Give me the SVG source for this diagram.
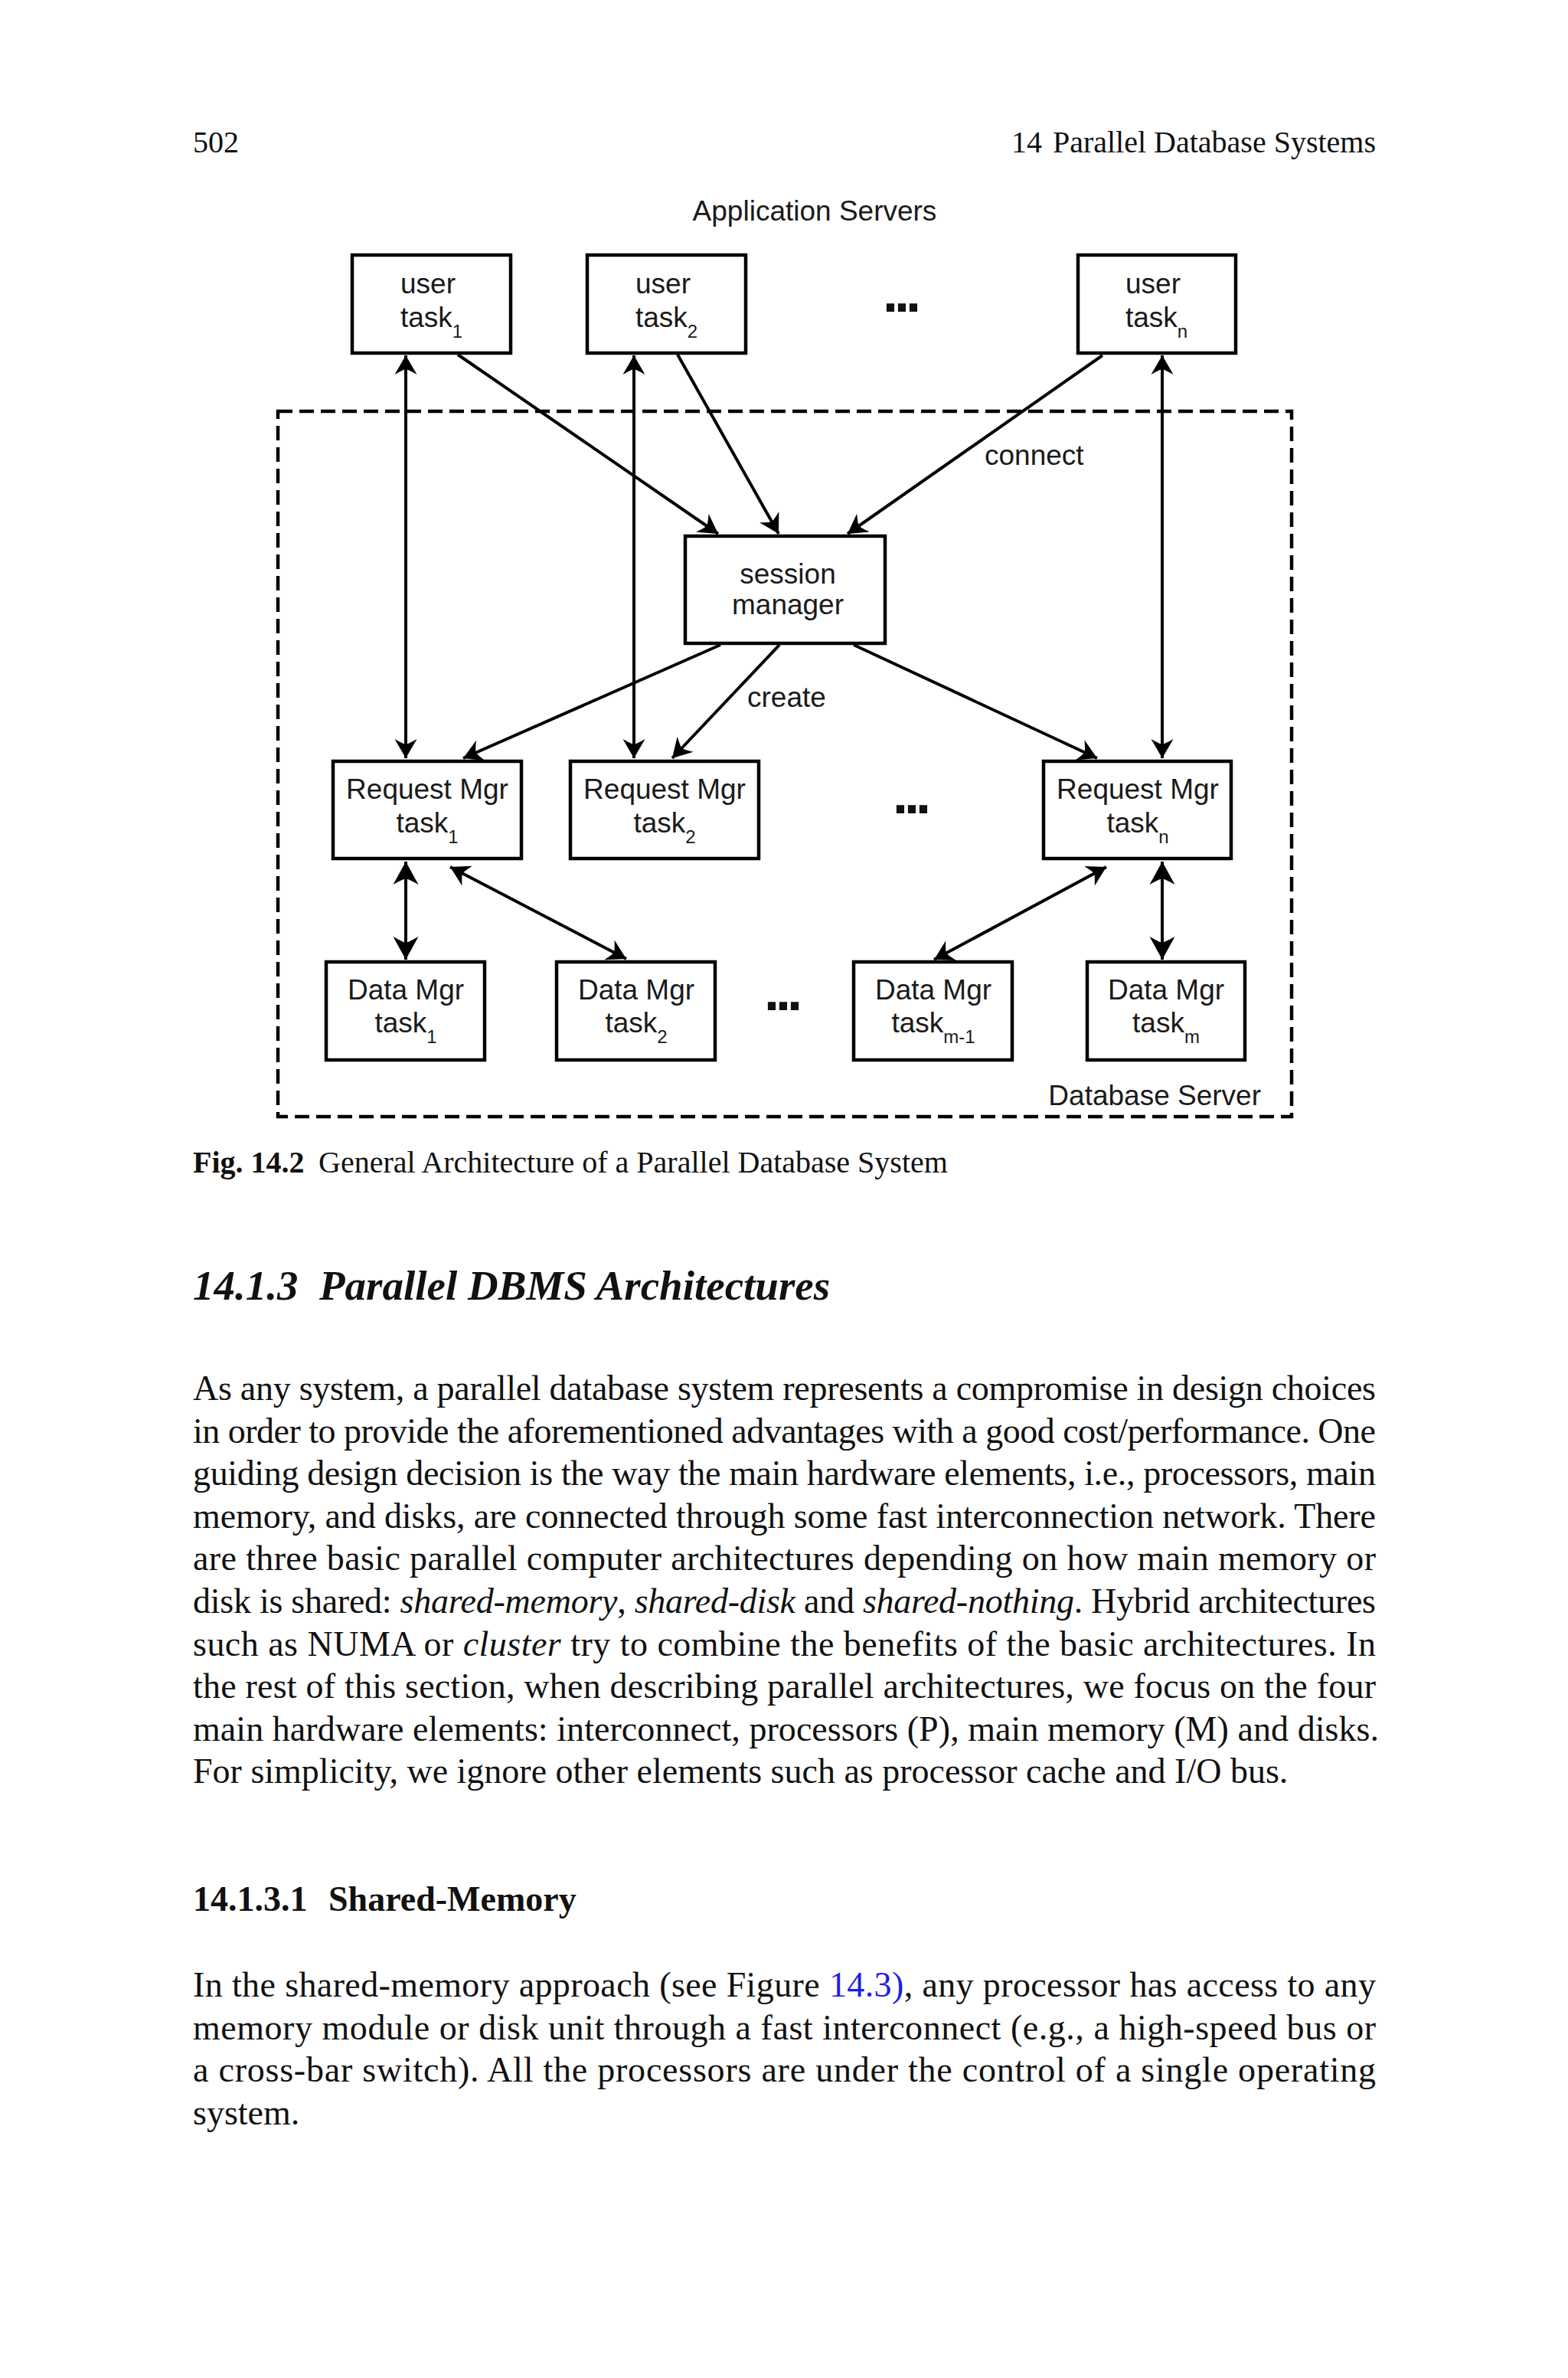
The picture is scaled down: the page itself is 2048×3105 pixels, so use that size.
<svg xmlns="http://www.w3.org/2000/svg" width="2048" height="3105" viewBox="0 0 2048 3105">
<defs>
<style>
.box{fill:#fff;stroke:#000;stroke-width:4.5}
.lbl{font-family:"Liberation Sans",Arial,sans-serif;font-size:37px;fill:#1a1a1a}
.sub{font-size:24px}
.c{text-anchor:middle}
.dots{font-family:"Liberation Sans",Arial,sans-serif;font-size:72px;font-weight:bold;letter-spacing:-5px;fill:#111}
.edge{fill:none;stroke:#000;stroke-width:4}
.ser{font-family:"Liberation Serif","Times New Roman",serif;fill:#111}
.body{font-size:46px}
.it{font-style:italic}
.dash{fill:none;stroke:#000;stroke-width:4.5;stroke-dasharray:19 9}
</style>
<marker id="ah" viewBox="-26 -15 27 30" markerWidth="27" markerHeight="30" refX="0" refY="0" markerUnits="userSpaceOnUse" orient="auto-start-reverse">
<path d="M0,0 L-25,-14.5 Q-19,-4 -18,0 Q-19,4 -25,14.5 Z" fill="#000"/>
</marker>
<marker id="AH" viewBox="-31 -17 32 34" markerWidth="32" markerHeight="34" refX="0" refY="0" markerUnits="userSpaceOnUse" orient="auto-start-reverse">
<path d="M0,0 L-30,-16.5 Q-23,-4 -22,0 Q-23,4 -30,16.5 Z" fill="#000"/>
</marker>
</defs>
<rect width="2048" height="3105" fill="#fff"/>

<!-- page header -->
<text class="ser" x="252" y="199" font-size="40">502</text>
<text class="ser" x="1321" y="199" font-size="40">14</text>
<text class="ser" x="1797" y="199" font-size="40" text-anchor="end">Parallel Database Systems</text>

<!-- diagram -->
<text class="lbl c" x="1064" y="288">Application Servers</text>

<g id="database-server">
<rect class="dash" x="363" y="537" width="1324" height="921"/>
<text class="lbl" x="1647" y="1443" text-anchor="end">Database Server</text>
</g>

<g id="connectors">
<path class="edge" d="M530,464 L530,990" marker-start="url(#ah)" marker-end="url(#ah)"/>
<path class="edge" d="M598,463 L938,697" marker-end="url(#ah)"/>
<path class="edge" d="M828,464 L828,990" marker-start="url(#ah)" marker-end="url(#ah)"/>
<path class="edge" d="M885,463 L1017,697" marker-end="url(#ah)"/>
<path class="edge" d="M1440,464 L1107,697" marker-end="url(#ah)"/>
<path class="edge" d="M1518,464 L1518,990" marker-start="url(#ah)" marker-end="url(#ah)"/>
<path class="edge" d="M941,842 L605,990" marker-end="url(#ah)"/>
<path class="edge" d="M1018,842 L878,990" marker-end="url(#ah)"/>
<path class="edge" d="M1115,842 L1433,990" marker-end="url(#ah)"/>
<path class="edge" d="M530,1125 L530,1253" marker-start="url(#AH)" marker-end="url(#AH)"/>
<path class="edge" d="M588,1132 L818,1252" marker-start="url(#ah)" marker-end="url(#ah)"/>
<path class="edge" d="M1445,1132 L1220,1253" marker-start="url(#ah)" marker-end="url(#ah)"/>
<path class="edge" d="M1518,1125 L1518,1253" marker-start="url(#AH)" marker-end="url(#AH)"/>
<text class="lbl" x="1286" y="607">connect</text>
<text class="lbl" x="976" y="923">create</text>
</g>

<g id="user-task-1">
<rect class="box" x="460" y="333" width="207" height="128"/>
<text class="lbl" x="523" y="383">user</text>
<text class="lbl" x="523" y="427">task<tspan class="sub" dy="14">1</tspan></text>
</g>
<g id="user-task-2">
<rect class="box" x="767" y="333" width="207" height="128"/>
<text class="lbl" x="830" y="383">user</text>
<text class="lbl" x="830" y="427">task<tspan class="sub" dy="14">2</tspan></text>
</g>
<text class="dots" x="1153" y="407">...</text>
<g id="user-task-n">
<rect class="box" x="1408" y="333" width="206" height="128"/>
<text class="lbl" x="1470" y="383">user</text>
<text class="lbl" x="1470" y="427">task<tspan class="sub" dy="14">n</tspan></text>
</g>

<g id="session-manager">
<rect class="box" x="895" y="700" width="261" height="140"/>
<text class="lbl c" x="1029" y="762">session</text>
<text class="lbl c" x="1029" y="802">manager</text>
</g>

<g id="request-mgr-1">
<rect class="box" x="435" y="994" width="246" height="127"/>
<text class="lbl c" x="558" y="1043">Request Mgr</text>
<text class="lbl c" x="558" y="1087">task<tspan class="sub" dy="14">1</tspan></text>
</g>
<g id="request-mgr-2">
<rect class="box" x="745" y="994" width="246" height="127"/>
<text class="lbl c" x="868" y="1043">Request Mgr</text>
<text class="lbl c" x="868" y="1087">task<tspan class="sub" dy="14">2</tspan></text>
</g>
<text class="dots" x="1166" y="1062">...</text>
<g id="request-mgr-n">
<rect class="box" x="1363" y="994" width="245" height="127"/>
<text class="lbl c" x="1486" y="1043">Request Mgr</text>
<text class="lbl c" x="1486" y="1087">task<tspan class="sub" dy="14">n</tspan></text>
</g>

<g id="data-mgr-1">
<rect class="box" x="426" y="1256" width="207" height="128"/>
<text class="lbl c" x="530" y="1305">Data Mgr</text>
<text class="lbl c" x="530" y="1348">task<tspan class="sub" dy="14">1</tspan></text>
</g>
<g id="data-mgr-2">
<rect class="box" x="727" y="1256" width="207" height="128"/>
<text class="lbl c" x="831" y="1305">Data Mgr</text>
<text class="lbl c" x="831" y="1348">task<tspan class="sub" dy="14">2</tspan></text>
</g>
<text class="dots" x="998" y="1319">...</text>
<g id="data-mgr-m-1">
<rect class="box" x="1115" y="1256" width="207" height="128"/>
<text class="lbl c" x="1219" y="1305">Data Mgr</text>
<text class="lbl c" x="1219" y="1348">task<tspan class="sub" dy="14">m-1</tspan></text>
</g>
<g id="data-mgr-m">
<rect class="box" x="1420" y="1256" width="206" height="128"/>
<text class="lbl c" x="1523" y="1305">Data Mgr</text>
<text class="lbl c" x="1523" y="1348">task<tspan class="sub" dy="14">m</tspan></text>
</g>

<!-- caption -->
<text class="ser" x="252" y="1531" font-size="40" font-weight="bold">Fig. 14.2</text>
<text class="ser" x="416" y="1531" font-size="40">General Architecture of a Parallel Database System</text>

<!-- section heading -->
<text class="ser" x="252" y="1697" font-size="55" font-weight="bold" font-style="italic">14.1.3</text>
<text class="ser" x="417" y="1697" font-size="55" font-weight="bold" font-style="italic">Parallel DBMS Architectures</text>

<!-- paragraph 1 -->
<g class="ser body">
<text x="252" y="1828" textLength="1545" lengthAdjust="spacing">As any system, a parallel database system represents a compromise in design choices</text>
<text x="252" y="1883.6" textLength="1545" lengthAdjust="spacing">in order to provide the aforementioned advantages with a good cost/performance. One</text>
<text x="252" y="1939.2" textLength="1545" lengthAdjust="spacing">guiding design decision is the way the main hardware elements, i.e., processors, main</text>
<text x="252" y="1994.8" textLength="1545" lengthAdjust="spacing">memory, and disks, are connected through some fast interconnection network. There</text>
<text x="252" y="2050.4" textLength="1545" lengthAdjust="spacing">are three basic parallel computer architectures depending on how main memory or</text>
<text x="252" y="2106" textLength="1545" lengthAdjust="spacing">disk is shared: <tspan class="it">shared-memory</tspan>, <tspan class="it">shared-disk</tspan> and <tspan class="it">shared-nothing</tspan>. Hybrid architectures</text>
<text x="252" y="2161.6" textLength="1545" lengthAdjust="spacing">such as NUMA or <tspan class="it">cluster</tspan> try to combine the benefits of the basic architectures. In</text>
<text x="252" y="2217.2" textLength="1545" lengthAdjust="spacing">the rest of this section, when describing parallel architectures, we focus on the four</text>
<text x="252" y="2272.8" textLength="1549" lengthAdjust="spacing">main hardware elements: interconnect, processors (P), main memory (M) and disks.</text>
<text x="252" y="2328.4">For simplicity, we ignore other elements such as processor cache and I/O bus.</text>
</g>

<!-- subsection heading -->
<text class="ser" x="252" y="2495" font-size="46" font-weight="bold">14.1.3.1</text>
<text class="ser" x="429" y="2495" font-size="46" font-weight="bold">Shared-Memory</text>

<!-- paragraph 2 -->
<g class="ser body">
<text x="252" y="2607" textLength="1545" lengthAdjust="spacing">In the shared-memory approach (see Figure <tspan fill="#1e1ee6">14.3)</tspan>, any processor has access to any</text>
<text x="252" y="2662.5" textLength="1545" lengthAdjust="spacing">memory module or disk unit through a fast interconnect (e.g., a high-speed bus or</text>
<text x="252" y="2718" textLength="1545" lengthAdjust="spacing">a cross-bar switch). All the processors are under the control of a single operating</text>
<text x="252" y="2773.5">system.</text>
</g>
</svg>
